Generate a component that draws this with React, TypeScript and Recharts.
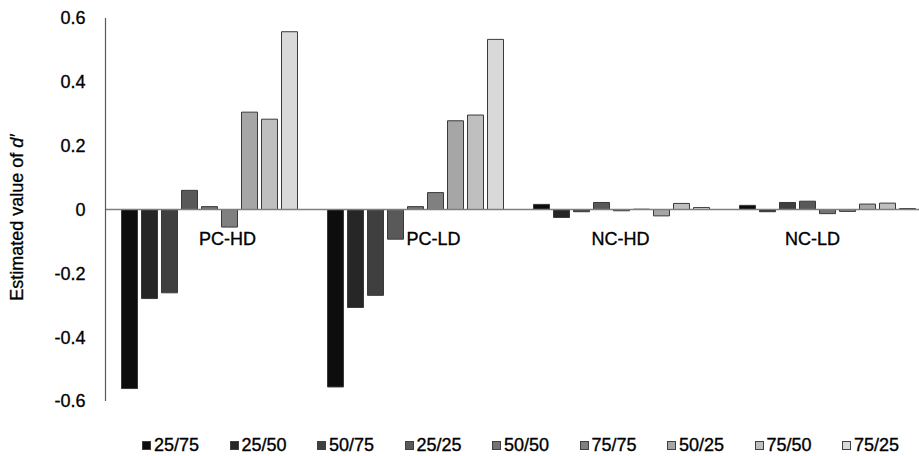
import { BarChart, Bar, XAxis, YAxis, ReferenceLine, Legend } from 'recharts'

const groups = ['PC-HD', 'PC-LD', 'NC-HD', 'NC-LD']
const conditions = ['25/75', '25/50', '50/75', '25/25', '50/50', '75/75', '50/25', '75/50', '75/25']

// estimated d' per group, in the order of `conditions`
const pcHd = [-0.561, -0.279, -0.261, 0.06, 0.009, -0.055, 0.305, 0.283, 0.557]
const pcLd = [-0.556, -0.307, -0.269, -0.093, 0.009, 0.053, 0.278, 0.296, 0.533]
const ncHd = [0.016, -0.025, -0.007, 0.022, -0.004, 0.001, -0.02, 0.019, 0.006]
const ncLd = [0.013, -0.007, 0.022, 0.026, -0.013, -0.006, 0.017, 0.02, 0.003]

const yTicks = [-0.6, -0.4, -0.2, 0, 0.2, 0.4, 0.6]

const fills = ['#0d0d0d', '#262626', '#3f3f3f', '#595959', '#737373', '#808080', '#a6a6a6', '#bfbfbf', '#d9d9d9']

// the group names sit a little off-centre in the original
const labelShift = [19, 19, 0, -14]

const font = '"Liberation Sans", Arial, sans-serif'

const data = groups.map((g, gi) => {
  const vals = [pcHd, pcLd, ncHd, ncLd][gi]
  const row: Record<string, string | number> = { group: g }
  conditions.forEach((_, ci) => {
    row[`k${ci}`] = vals[ci]
  })
  return row
})

function GroupTick({ x, y, payload, index }: { x: number; y: number; payload: { value: string }; index: number }) {
  return (
    <text
      x={x + labelShift[index]}
      y={y - 170}
      textAnchor="middle"
      dominantBaseline="central"
      fontSize={18}
      fill="#000"
      stroke="#000"
      strokeWidth={0.35}
      fontFamily={font}
    >
      {payload.value}
    </text>
  )
}

function YTitle({ viewBox }: { viewBox?: { x: number; y: number; width: number; height: number } }) {
  const cy = (viewBox?.y ?? 0) + (viewBox?.height ?? 0) / 2 + 8
  return (
    <text
      transform={`translate(17, ${cy}) rotate(-90)`}
      textAnchor="middle"
      dominantBaseline="central"
      fontSize={18}
      fill="#000"
      stroke="#000"
      strokeWidth={0.3}
      fontFamily={font}
    >
      Estimated value of <tspan fontStyle="italic">d′</tspan>
    </text>
  )
}

function LegendRow() {
  return (
    <div
      style={{
        display: 'flex',
        height: 22,
        alignItems: 'center',
        fontFamily: font,
        fontSize: 18,
        color: '#000',
        WebkitTextStroke: '0.35px #000',
      }}
    >
      {conditions.map((c, i) => (
        <div key={c} style={{ width: 87.5, display: 'flex', alignItems: 'center' }}>
          <span
            style={{
              width: 9,
              height: 9,
              background: fills[i],
              border: '1px solid #404040',
              boxSizing: 'border-box',
              marginRight: 3,
            }}
          />
          <span>{c}</span>
        </div>
      ))}
    </div>
  )
}

export default function App() {
  return (
    <div style={{ position: 'fixed', top: 0, left: 0, width: 919, height: 456, overflow: 'hidden', background: '#fff' }}>
      <BarChart
        width={940}
        height={456}
        data={data}
        margin={{ top: 18, right: 10.5, bottom: 0, left: 45.5 }}
        barCategoryGap={16}
        barGap={4}
      >
        <XAxis dataKey="group" axisLine={false} tickLine={false} height={33} tick={GroupTick} interval={0} />
        <YAxis
          width={60}
          domain={[-0.6, 0.6]}
          ticks={yTicks}
          tickLine={false}
          axisLine={{ stroke: '#595959', strokeWidth: 1.2 }}
          tickMargin={14}
          tick={{ fontSize: 18, fill: '#000', stroke: '#000', strokeWidth: 0.3, fontFamily: font }}
          label={{ content: YTitle }}
        />
        <ReferenceLine y={0} stroke="#7f7f7f" strokeWidth={1.5} />
        {conditions.map((c, i) => (
          <Bar
            key={c}
            dataKey={`k${i}`}
            name={c}
            fill={fills[i]}
            stroke="#3a3a3a"
            strokeWidth={1}
            isAnimationActive={false}
          />
        ))}
        <Legend verticalAlign="bottom" content={LegendRow} wrapperStyle={{ left: 142, width: 790 }} />
      </BarChart>
    </div>
  )
}
